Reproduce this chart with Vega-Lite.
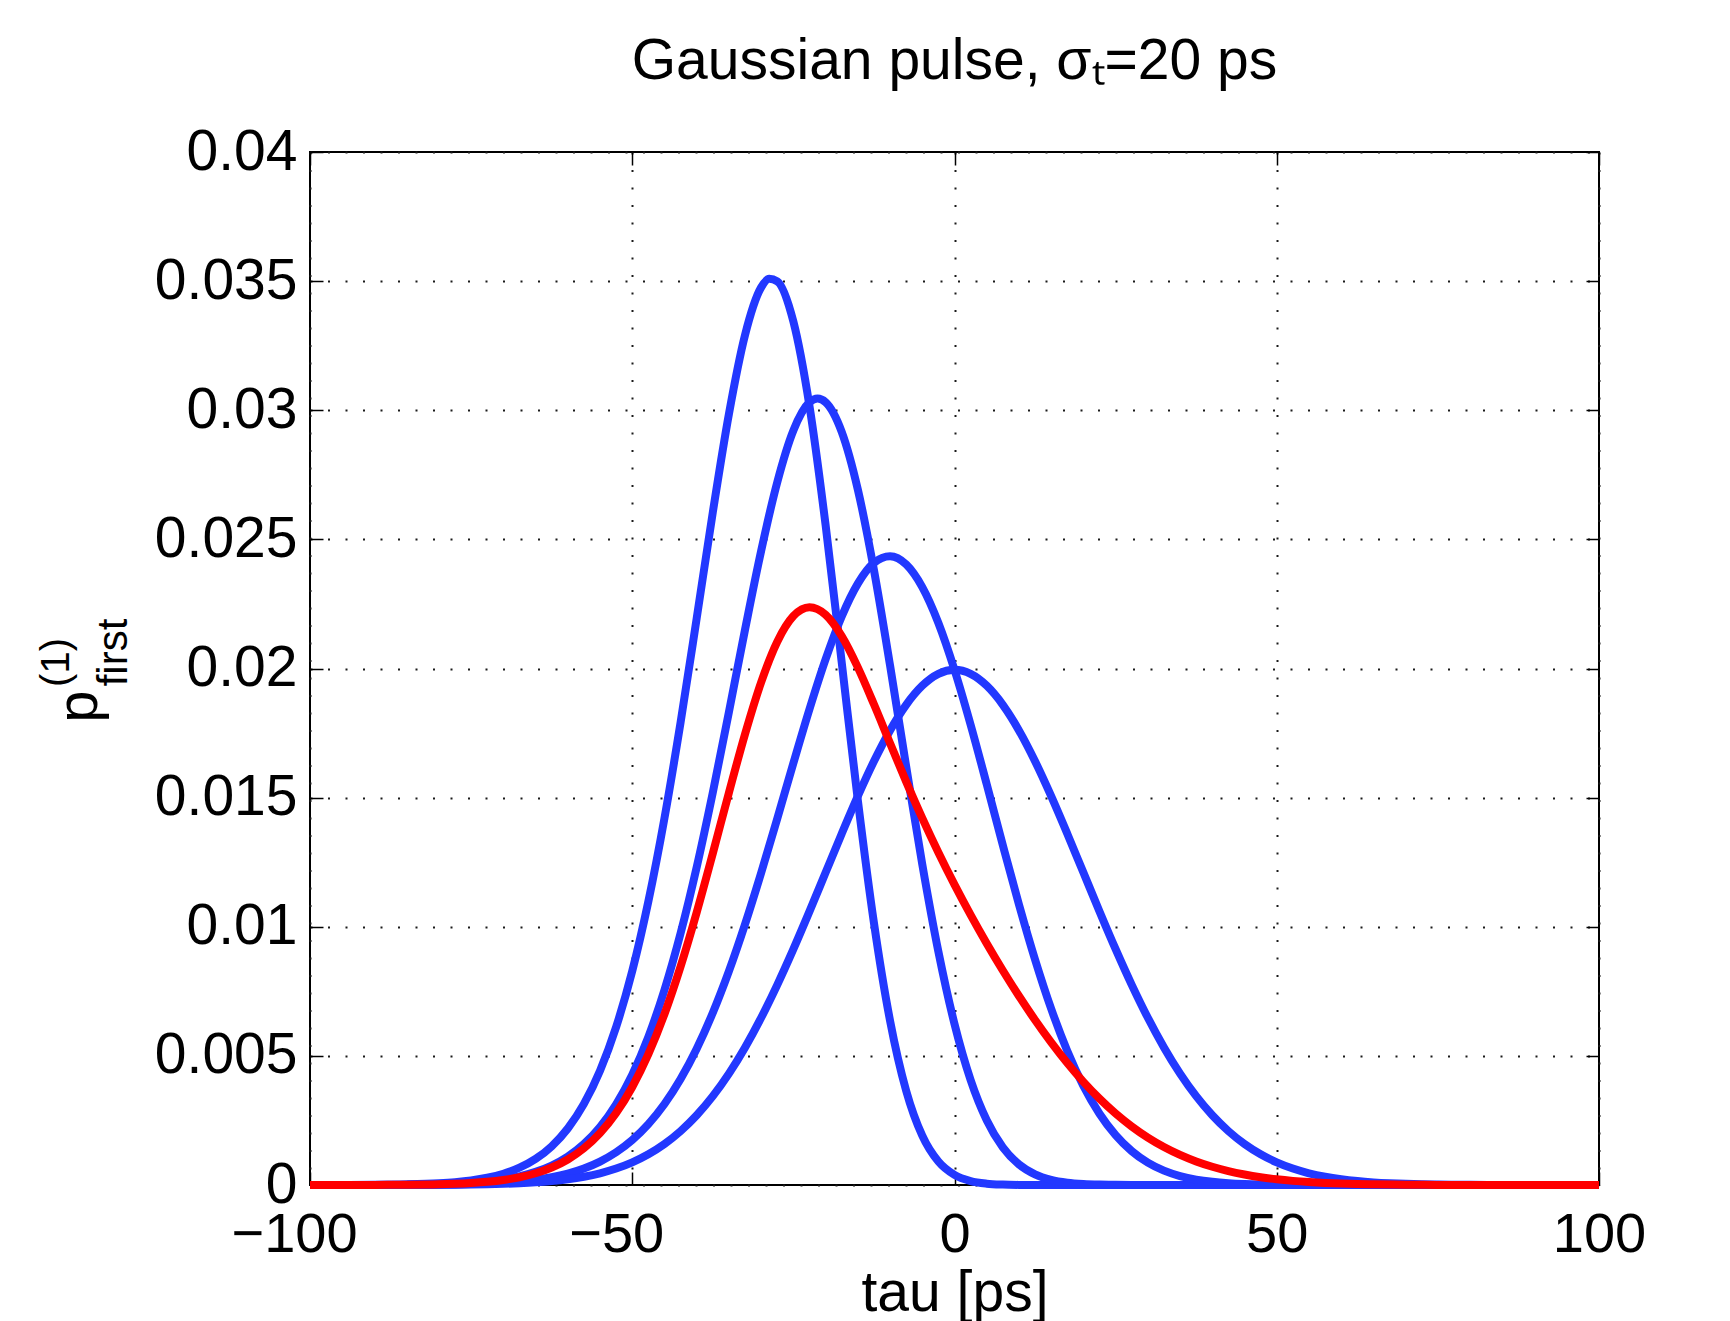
{
"$schema":"https://vega.github.io/schema/vega-lite/v6.json",
"width":1289,"height":1033,
"autosize":{"type":"none"},
"padding":{"left":310,"top":152,"right":131,"bottom":136},
"background":"white",
"config":{"view":{"stroke":"black","strokeWidth":2},"font":"Liberation Sans"},
"title":{"text":"Gaussian pulse, σₜ=20 ps","fontSize":57,"font":"Liberation Sans","fontWeight":"normal","color":"black","anchor":"middle","frame":"group","baseline":"alphabetic","offset":-13},
"data":{"values":[
{"curve":"n10","tau":-100,"p":0},{"curve":"n10","tau":-90,"p":0.000008},{"curve":"n10","tau":-85,"p":0.000024},{"curve":"n10","tau":-80,"p":0.000067},{"curve":"n10","tau":-77.5,"p":0.00011},{"curve":"n10","tau":-75,"p":0.000177},{"curve":"n10","tau":-72.5,"p":0.00028},{"curve":"n10","tau":-70,"p":0.000436},{"curve":"n10","tau":-67.5,"p":0.000669},{"curve":"n10","tau":-65,"p":0.00101},{"curve":"n10","tau":-62.5,"p":0.001499},{"curve":"n10","tau":-60,"p":0.002189},{"curve":"n10","tau":-57.5,"p":0.003141},{"curve":"n10","tau":-55,"p":0.004427},{"curve":"n10","tau":-52.5,"p":0.006118},{"curve":"n10","tau":-50,"p":0.008286},{"curve":"n10","tau":-47.5,"p":0.01098},{"curve":"n10","tau":-45,"p":0.014207},{"curve":"n10","tau":-42.5,"p":0.017912},{"curve":"n10","tau":-40,"p":0.021945},{"curve":"n10","tau":-37.5,"p":0.026051},{"curve":"n10","tau":-35,"p":0.029858},{"curve":"n10","tau":-32.5,"p":0.032916},{"curve":"n10","tau":-30,"p":0.034757},{"curve":"n10","tau":-28.75,"p":0.035091},{"curve":"n10","tau":-27.5,"p":0.034992},{"curve":"n10","tau":-25,"p":0.033432},{"curve":"n10","tau":-22.5,"p":0.030158},{"curve":"n10","tau":-20,"p":0.025555},{"curve":"n10","tau":-17.5,"p":0.020238},{"curve":"n10","tau":-15,"p":0.014903},{"curve":"n10","tau":-12.5,"p":0.010149},{"curve":"n10","tau":-10,"p":0.006362},{"curve":"n10","tau":-7.5,"p":0.003651},{"curve":"n10","tau":-5,"p":0.00191},{"curve":"n10","tau":-2.5,"p":0.000907},{"curve":"n10","tau":0,"p":0.00039},{"curve":"n10","tau":2.5,"p":0.000151},{"curve":"n10","tau":5,"p":0.000052},{"curve":"n10","tau":7.5,"p":0.000016},{"curve":"n10","tau":10,"p":0.000004},{"curve":"n10","tau":12.5,"p":0.000001},{"curve":"n10","tau":15,"p":0},{"curve":"n10","tau":20,"p":0},{"curve":"n10","tau":100,"p":0},
{"curve":"n5","tau":-100,"p":0},{"curve":"n5","tau":-90,"p":0.000004},{"curve":"n5","tau":-85,"p":0.000012},{"curve":"n5","tau":-80,"p":0.0000335},{"curve":"n5","tau":-77.5,"p":0.000055},{"curve":"n5","tau":-75,"p":0.0000885},{"curve":"n5","tau":-72.5,"p":0.00014},{"curve":"n5","tau":-70,"p":0.0002185},{"curve":"n5","tau":-67.5,"p":0.000335},{"curve":"n5","tau":-65,"p":0.000507},{"curve":"n5","tau":-62.5,"p":0.000753},{"curve":"n5","tau":-60,"p":0.001102},{"curve":"n5","tau":-57.5,"p":0.001587},{"curve":"n5","tau":-55,"p":0.002247},{"curve":"n5","tau":-52.5,"p":0.003126},{"curve":"n5","tau":-50,"p":0.004274},{"curve":"n5","tau":-47.5,"p":0.005737},{"curve":"n5","tau":-45,"p":0.007554},{"curve":"n5","tau":-42.5,"p":0.009747},{"curve":"n5","tau":-40,"p":0.01231},{"curve":"n5","tau":-37.5,"p":0.0152},{"curve":"n5","tau":-35,"p":0.018315},{"curve":"n5","tau":-32.5,"p":0.021505},{"curve":"n5","tau":-30,"p":0.024556},{"curve":"n5","tau":-27.5,"p":0.027215},{"curve":"n5","tau":-25,"p":0.029215},{"curve":"n5","tau":-22.5,"p":0.030306},{"curve":"n5","tau":-21.25,"p":0.030451},{"curve":"n5","tau":-20,"p":0.030312},{"curve":"n5","tau":-17.5,"p":0.029164},{"curve":"n5","tau":-15,"p":0.026932},{"curve":"n5","tau":-12.5,"p":0.023814},{"curve":"n5","tau":-10,"p":0.02012},{"curve":"n5","tau":-7.5,"p":0.016208},{"curve":"n5","tau":-5,"p":0.012419},{"curve":"n5","tau":-2.5,"p":0.009038},{"curve":"n5","tau":0,"p":0.006234},{"curve":"n5","tau":2.5,"p":0.004067},{"curve":"n5","tau":5,"p":0.002507},{"curve":"n5","tau":7.5,"p":0.001457},{"curve":"n5","tau":10,"p":0.000798},{"curve":"n5","tau":12.5,"p":0.000411},{"curve":"n5","tau":15,"p":0.000199},{"curve":"n5","tau":17.5,"p":0.00009},{"curve":"n5","tau":20,"p":0.000038},{"curve":"n5","tau":22.5,"p":0.000015},{"curve":"n5","tau":25,"p":0.000006},{"curve":"n5","tau":27.5,"p":0.000002},{"curve":"n5","tau":30,"p":0},{"curve":"n5","tau":40,"p":0},{"curve":"n5","tau":100,"p":0},
{"curve":"n2","tau":-100,"p":0},{"curve":"n2","tau":-90,"p":0.0000016},{"curve":"n2","tau":-85,"p":0.0000049},{"curve":"n2","tau":-80,"p":0.0000134},{"curve":"n2","tau":-77.5,"p":0.000022},{"curve":"n2","tau":-75,"p":0.0000354},{"curve":"n2","tau":-72.5,"p":0.000056},{"curve":"n2","tau":-70,"p":0.0000874},{"curve":"n2","tau":-67.5,"p":0.000134},{"curve":"n2","tau":-65,"p":0.000203},{"curve":"n2","tau":-62.5,"p":0.000302},{"curve":"n2","tau":-60,"p":0.000443},{"curve":"n2","tau":-57.5,"p":0.000639},{"curve":"n2","tau":-55,"p":0.000907},{"curve":"n2","tau":-52.5,"p":0.001267},{"curve":"n2","tau":-50,"p":0.001742},{"curve":"n2","tau":-47.5,"p":0.002356},{"curve":"n2","tau":-45,"p":0.003135},{"curve":"n2","tau":-42.5,"p":0.004102},{"curve":"n2","tau":-40,"p":0.005276},{"curve":"n2","tau":-37.5,"p":0.00667},{"curve":"n2","tau":-35,"p":0.008282},{"curve":"n2","tau":-32.5,"p":0.010099},{"curve":"n2","tau":-30,"p":0.012087},{"curve":"n2","tau":-27.5,"p":0.01419},{"curve":"n2","tau":-25,"p":0.016335},{"curve":"n2","tau":-22.5,"p":0.018427},{"curve":"n2","tau":-20,"p":0.020358},{"curve":"n2","tau":-17.5,"p":0.022015},{"curve":"n2","tau":-15,"p":0.023289},{"curve":"n2","tau":-12.5,"p":0.024088},{"curve":"n2","tau":-10,"p":0.024344},{"curve":"n2","tau":-7.5,"p":0.024028},{"curve":"n2","tau":-5,"p":0.02315},{"curve":"n2","tau":-2.5,"p":0.021761},{"curve":"n2","tau":0,"p":0.019947},{"curve":"n2","tau":2.5,"p":0.017823},{"curve":"n2","tau":5,"p":0.015517},{"curve":"n2","tau":7.5,"p":0.013157},{"curve":"n2","tau":10,"p":0.010863},{"curve":"n2","tau":12.5,"p":0.008729},{"curve":"n2","tau":15,"p":0.006825},{"curve":"n2","tau":17.5,"p":0.005191},{"curve":"n2","tau":20,"p":0.003839},{"curve":"n2","tau":22.5,"p":0.002761},{"curve":"n2","tau":25,"p":0.00193},{"curve":"n2","tau":27.5,"p":0.001311},{"curve":"n2","tau":30,"p":0.000865},{"curve":"n2","tau":32.5,"p":0.000555},{"curve":"n2","tau":35,"p":0.000346},{"curve":"n2","tau":37.5,"p":0.000209},{"curve":"n2","tau":40,"p":0.000123},{"curve":"n2","tau":42.5,"p":0.00007},{"curve":"n2","tau":45,"p":0.000039},{"curve":"n2","tau":47.5,"p":0.000021},{"curve":"n2","tau":50,"p":0.000011},{"curve":"n2","tau":55,"p":0.000003},{"curve":"n2","tau":60,"p":0},{"curve":"n2","tau":100,"p":0},
{"curve":"n1","tau":-100,"p":0},{"curve":"n1","tau":-90,"p":0.0000008},{"curve":"n1","tau":-85,"p":0.0000024},{"curve":"n1","tau":-80,"p":0.0000067},{"curve":"n1","tau":-77.5,"p":0.000011},{"curve":"n1","tau":-75,"p":0.0000177},{"curve":"n1","tau":-72.5,"p":0.000028},{"curve":"n1","tau":-70,"p":0.0000437},{"curve":"n1","tau":-67.5,"p":0.0000671},{"curve":"n1","tau":-65,"p":0.0001015},{"curve":"n1","tau":-62.5,"p":0.0001511},{"curve":"n1","tau":-60,"p":0.0002216},{"curve":"n1","tau":-57.5,"p":0.0003199},{"curve":"n1","tau":-55,"p":0.0004547},{"curve":"n1","tau":-52.5,"p":0.0006362},{"curve":"n1","tau":-50,"p":0.0008764},{"curve":"n1","tau":-47.5,"p":0.0011886},{"curve":"n1","tau":-45,"p":0.001587},{"curve":"n1","tau":-42.5,"p":0.0020861},{"curve":"n1","tau":-40,"p":0.0026995},{"curve":"n1","tau":-37.5,"p":0.0034394},{"curve":"n1","tau":-35,"p":0.0043139},{"curve":"n1","tau":-32.5,"p":0.0053269},{"curve":"n1","tau":-30,"p":0.0064759},{"curve":"n1","tau":-27.5,"p":0.0077506},{"curve":"n1","tau":-25,"p":0.0091325},{"curve":"n1","tau":-22.5,"p":0.0105939},{"curve":"n1","tau":-20,"p":0.0120985},{"curve":"n1","tau":-17.5,"p":0.0136028},{"curve":"n1","tau":-15,"p":0.0150569},{"curve":"n1","tau":-12.5,"p":0.016408},{"curve":"n1","tau":-10,"p":0.0176033},{"curve":"n1","tau":-7.5,"p":0.0185928},{"curve":"n1","tau":-5,"p":0.0193334},{"curve":"n1","tau":-2.5,"p":0.0197919},{"curve":"n1","tau":0,"p":0.0199471},{"curve":"n1","tau":2.5,"p":0.0197919},{"curve":"n1","tau":5,"p":0.0193334},{"curve":"n1","tau":7.5,"p":0.0185928},{"curve":"n1","tau":10,"p":0.0176033},{"curve":"n1","tau":12.5,"p":0.016408},{"curve":"n1","tau":15,"p":0.0150569},{"curve":"n1","tau":17.5,"p":0.0136028},{"curve":"n1","tau":20,"p":0.0120985},{"curve":"n1","tau":22.5,"p":0.0105939},{"curve":"n1","tau":25,"p":0.0091325},{"curve":"n1","tau":27.5,"p":0.0077506},{"curve":"n1","tau":30,"p":0.0064759},{"curve":"n1","tau":32.5,"p":0.0053269},{"curve":"n1","tau":35,"p":0.0043139},{"curve":"n1","tau":37.5,"p":0.0034394},{"curve":"n1","tau":40,"p":0.0026995},{"curve":"n1","tau":42.5,"p":0.0020861},{"curve":"n1","tau":45,"p":0.001587},{"curve":"n1","tau":47.5,"p":0.0011886},{"curve":"n1","tau":50,"p":0.0008764},{"curve":"n1","tau":52.5,"p":0.0006362},{"curve":"n1","tau":55,"p":0.0004547},{"curve":"n1","tau":57.5,"p":0.0003199},{"curve":"n1","tau":60,"p":0.0002216},{"curve":"n1","tau":62.5,"p":0.0001511},{"curve":"n1","tau":65,"p":0.0001015},{"curve":"n1","tau":67.5,"p":0.0000671},{"curve":"n1","tau":70,"p":0.0000437},{"curve":"n1","tau":72.5,"p":0.000028},{"curve":"n1","tau":75,"p":0.0000177},{"curve":"n1","tau":77.5,"p":0.000011},{"curve":"n1","tau":80,"p":0.0000067},{"curve":"n1","tau":85,"p":0.0000024},{"curve":"n1","tau":90,"p":0.0000008},{"curve":"n1","tau":100,"p":0},
{"curve":"mean","tau":-100,"p":0},{"curve":"mean","tau":-90,"p":0.000004},{"curve":"mean","tau":-85,"p":0.000011},{"curve":"mean","tau":-80,"p":0.0000302},{"curve":"mean","tau":-77.5,"p":0.0000495},{"curve":"mean","tau":-75,"p":0.0000797},{"curve":"mean","tau":-72.5,"p":0.000126},{"curve":"mean","tau":-70,"p":0.000196},{"curve":"mean","tau":-67.5,"p":0.000301},{"curve":"mean","tau":-65,"p":0.000455},{"curve":"mean","tau":-62.5,"p":0.000676},{"curve":"mean","tau":-60,"p":0.000989},{"curve":"mean","tau":-57.5,"p":0.001422},{"curve":"mean","tau":-55,"p":0.002009},{"curve":"mean","tau":-52.5,"p":0.002787},{"curve":"mean","tau":-50,"p":0.003795},{"curve":"mean","tau":-47.5,"p":0.005066},{"curve":"mean","tau":-45,"p":0.006621},{"curve":"mean","tau":-42.5,"p":0.008462},{"curve":"mean","tau":-40,"p":0.010558},{"curve":"mean","tau":-37.5,"p":0.01284},{"curve":"mean","tau":-35,"p":0.015192},{"curve":"mean","tau":-32.5,"p":0.017462},{"curve":"mean","tau":-30,"p":0.019469},{"curve":"mean","tau":-27.5,"p":0.021037},{"curve":"mean","tau":-25,"p":0.022029},{"curve":"mean","tau":-22.5,"p":0.022371},{"curve":"mean","tau":-20,"p":0.022081},{"curve":"mean","tau":-17.5,"p":0.021255},{"curve":"mean","tau":-15,"p":0.020045},{"curve":"mean","tau":-12.5,"p":0.018615},{"curve":"mean","tau":-10,"p":0.017107},{"curve":"mean","tau":-7.5,"p":0.01562},{"curve":"mean","tau":-5,"p":0.014203},{"curve":"mean","tau":-2.5,"p":0.012875},{"curve":"mean","tau":0,"p":0.011629},{"curve":"mean","tau":2.5,"p":0.010458},{"curve":"mean","tau":5,"p":0.009352},{"curve":"mean","tau":7.5,"p":0.008306},{"curve":"mean","tau":10,"p":0.007317},{"curve":"mean","tau":12.5,"p":0.006387},{"curve":"mean","tau":15,"p":0.00552},{"curve":"mean","tau":17.5,"p":0.004721},{"curve":"mean","tau":20,"p":0.003994},{"curve":"mean","tau":22.5,"p":0.003343},{"curve":"mean","tau":25,"p":0.002767},{"curve":"mean","tau":27.5,"p":0.002266},{"curve":"mean","tau":30,"p":0.001835},{"curve":"mean","tau":32.5,"p":0.00147},{"curve":"mean","tau":35,"p":0.001165},{"curve":"mean","tau":37.5,"p":0.000912},{"curve":"mean","tau":40,"p":0.000706},{"curve":"mean","tau":42.5,"p":0.000539},{"curve":"mean","tau":45,"p":0.000407},{"curve":"mean","tau":47.5,"p":0.000302},{"curve":"mean","tau":50,"p":0.000222},{"curve":"mean","tau":52.5,"p":0.00016},{"curve":"mean","tau":55,"p":0.000114},{"curve":"mean","tau":57.5,"p":0.00008},{"curve":"mean","tau":60,"p":0.000055},{"curve":"mean","tau":62.5,"p":0.000038},{"curve":"mean","tau":65,"p":0.000025},{"curve":"mean","tau":70,"p":0.000011},{"curve":"mean","tau":75,"p":0.000004},{"curve":"mean","tau":80,"p":0.0000017},{"curve":"mean","tau":90,"p":0},{"curve":"mean","tau":100,"p":0}
]},
"layer":[
{"transform":[{"filter":"datum.curve === 'n10'"}],
 "mark":{"type":"line","color":"#2238ff","strokeWidth":8,"interpolate":"monotone","clip":false,"strokeCap":"butt","strokeJoin":"round"},
 "encoding":{
  "x":{"field":"tau","type":"quantitative","scale":{"domain":[-100,100],"nice":false,"zero":false},
   "axis":{"orient":"bottom","values":[-100,-50,0,50,100],"format":"d","domain":false,"labelFont":"Liberation Sans","labelFontSize":56,"labelColor":"black","labelPadding":35,"labelFlush":false,"labelOverlap":false,"labelBound":false,"labelOffset":{"condition":{"test":"datum.value < 0","value":-16},"value":0},"ticks":true,"tickSize":-13,"tickColor":"black","tickWidth":1.5,"grid":true,"gridColor":"#1a1a1a","gridDash":[2,15.5],"gridWidth":2,"title":"tau [ps]","titleFont":"Liberation Sans","titleFontSize":57,"titleFontWeight":"normal","titleColor":"black","titleAngle":0,"titleAlign":"center","titleBaseline":"alphabetic","titleX":644.5,"titleY":125}},
  "y":{"field":"p","type":"quantitative","scale":{"domain":[0,0.04],"nice":false,"zero":false},
   "axis":{"orient":"left","values":[0,0.005,0.01,0.015,0.02,0.025,0.03,0.035,0.04],"format":"~g","domain":false,"labelFont":"Liberation Sans","labelFontSize":57,"labelColor":"black","labelPadding":26,"labelAlign":"right","labelBaseline":"middle","labelFlush":false,"labelOverlap":false,"labelBound":false,"ticks":true,"tickSize":-13,"tickColor":"black","tickWidth":1.5,"grid":true,"gridColor":"#1a1a1a","gridDash":[2,15.5],"gridWidth":2,"title":"p","titleFont":"Liberation Sans","titleFontSize":58,"titleFontWeight":"normal","titleColor":"black","titleAngle":-90,"titleAlign":"center","titleBaseline":"alphabetic","titleX":-214,"titleY":554}}
 }},
{"transform":[{"filter":"datum.curve === 'n5'"}],
 "mark":{"type":"line","color":"#2238ff","strokeWidth":8,"interpolate":"monotone","clip":false,"strokeCap":"butt","strokeJoin":"round"},
 "encoding":{
  "x":{"field":"tau","type":"quantitative","scale":{"domain":[-100,100],"nice":false,"zero":false},
   "axis":{"orient":"top","values":[-100,-50,0,50,100],"domain":false,"labels":false,"ticks":true,"tickSize":-13,"tickColor":"black","tickWidth":1.5,"grid":false,"title":null}},
  "y":{"field":"p","type":"quantitative","scale":{"domain":[0,0.04],"nice":false,"zero":false},
   "axis":{"orient":"left","domain":false,"labels":false,"ticks":false,"grid":false,"title":"first","titleFont":"Liberation Sans","titleFontSize":42,"titleFontWeight":"normal","titleColor":"black","titleAngle":-90,"titleAlign":"center","titleBaseline":"alphabetic","titleX":-184,"titleY":500}}
 }},
{"transform":[{"filter":"datum.curve === 'n2'"}],
 "mark":{"type":"line","color":"#2238ff","strokeWidth":8,"interpolate":"monotone","clip":false,"strokeCap":"butt","strokeJoin":"round"},
 "encoding":{
  "x":{"field":"tau","type":"quantitative","scale":{"domain":[-100,100],"nice":false,"zero":false},"axis":null},
  "y":{"field":"p","type":"quantitative","scale":{"domain":[0,0.04],"nice":false,"zero":false},
   "axis":{"orient":"left","domain":false,"labels":false,"ticks":false,"grid":false,"title":"(1)","titleFont":"Liberation Sans","titleFontSize":40,"titleFontWeight":"normal","titleColor":"black","titleAngle":-90,"titleAlign":"center","titleBaseline":"alphabetic","titleX":-242,"titleY":510}}
 }},
{"transform":[{"filter":"datum.curve === 'n1'"}],
 "mark":{"type":"line","color":"#2238ff","strokeWidth":8,"interpolate":"monotone","clip":false,"strokeCap":"butt","strokeJoin":"round"},
 "encoding":{
  "x":{"field":"tau","type":"quantitative","scale":{"domain":[-100,100],"nice":false,"zero":false},"axis":null},
  "y":{"field":"p","type":"quantitative","scale":{"domain":[0,0.04],"nice":false,"zero":false},
   "axis":{"orient":"right","values":[0,0.005,0.01,0.015,0.02,0.025,0.03,0.035,0.04],"domain":false,"labels":false,"ticks":true,"tickSize":-13,"tickColor":"black","tickWidth":1.5,"grid":false,"title":null}}
 }},
{"transform":[{"filter":"datum.curve === 'mean'"}],
 "mark":{"type":"line","color":"#ff0000","strokeWidth":8,"interpolate":"monotone","clip":false,"strokeCap":"butt","strokeJoin":"round"},
 "encoding":{
  "x":{"field":"tau","type":"quantitative","scale":{"domain":[-100,100],"nice":false,"zero":false},"axis":null},
  "y":{"field":"p","type":"quantitative","scale":{"domain":[0,0.04],"nice":false,"zero":false},"axis":null}
 }}
],
"resolve":{"axis":{"x":"independent","y":"independent"}}
}
